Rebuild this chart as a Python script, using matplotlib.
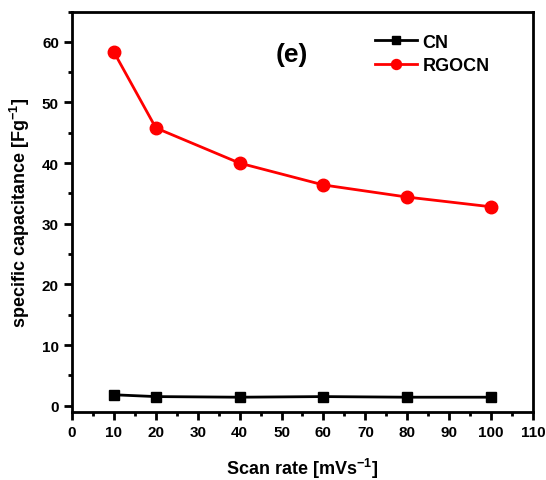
import matplotlib
matplotlib.use('Agg')
import matplotlib.pyplot as plt
from matplotlib.ticker import MultipleLocator

scan_rate = [10, 20, 40, 60, 80, 100]
cn = [1.8, 1.5, 1.4, 1.5, 1.4, 1.4]
rgocn = [58.3, 45.8, 40.0, 36.4, 34.4, 32.8]

plt.rcParams['font.family'] = ['Liberation Sans', 'DejaVu Sans']
plt.rcParams['font.weight'] = 'bold'
plt.rcParams['mathtext.fontset'] = 'custom'
plt.rcParams['mathtext.bf'] = 'Liberation Sans:bold'
plt.rcParams['mathtext.rm'] = 'Liberation Sans:bold'

fig = plt.figure(figsize=(5.46, 4.81), dpi=100)
ax = fig.add_axes([0.132, 0.141, 0.844, 0.833])

ax.plot(scan_rate, cn, color='black', marker='s', markersize=6.5, linewidth=2.0, label='CN')
ax.plot(scan_rate, rgocn, color='red', marker='o', markersize=9, linewidth=2.0, label='RGOCN')

ax.set_xlim(0, 110)
ax.set_ylim(-1.07, 65)
ax.xaxis.set_major_locator(MultipleLocator(10))
ax.xaxis.set_minor_locator(MultipleLocator(5))
ax.yaxis.set_major_locator(MultipleLocator(10))
ax.yaxis.set_minor_locator(MultipleLocator(5))
ax.tick_params(which='major', direction='out', length=6, width=2.0, labelsize=11, pad=3.5)
ax.tick_params(which='minor', direction='out', length=3, width=2.0)
for s in ax.spines.values():
    s.set_linewidth(2.0)

ax.set_xlabel('Scan rate [mVs$^{\\mathrm{-1}}$]', fontsize=13, fontweight='bold', labelpad=12)
ax.set_ylabel('specific capacitance [Fg$^{\\mathrm{-1}}$]', fontsize=13, fontweight='bold', labelpad=7)

ax.text(0.476, 0.894, '(e)', transform=ax.transAxes, fontsize=19, fontweight='bold',
        ha='center', va='center')

leg = ax.legend(loc='upper right', bbox_to_anchor=(0.933, 0.976), frameon=False, fontsize=13,
                handlelength=2.3, handletextpad=0.3, borderaxespad=0.3, labelspacing=0.35,
                markerscale=0.8)

fig.savefig('out.png', dpi=100)
